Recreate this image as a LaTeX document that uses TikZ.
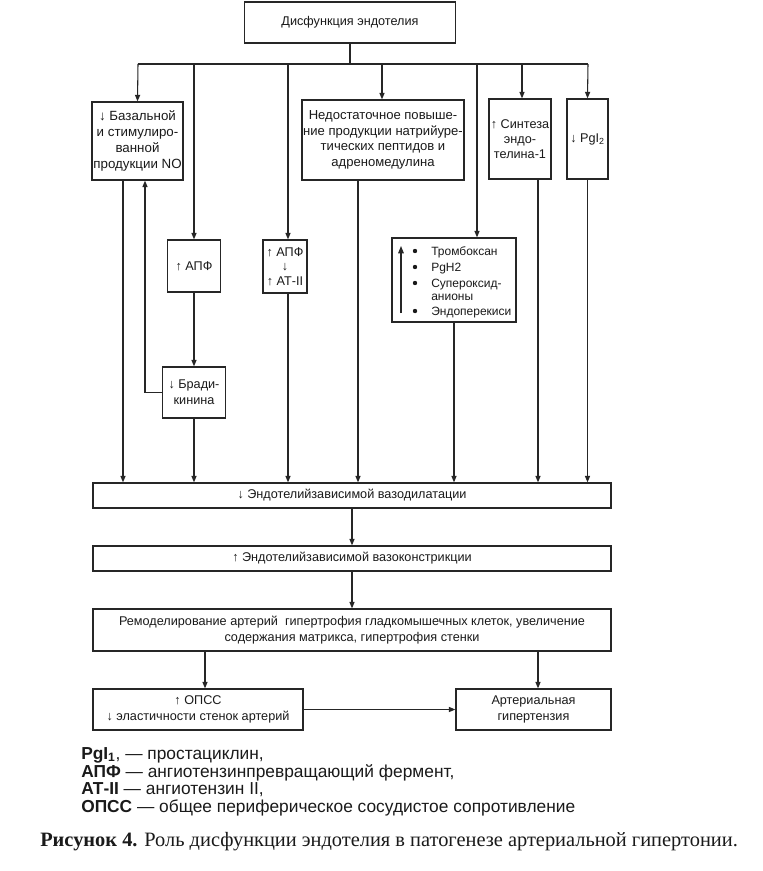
\documentclass[tikz,border=0pt]{standalone}
\usepackage{fontspec}
\setmainfont{Liberation Sans}
\newfontfamily\capfont{Liberation Serif}
\usetikzlibrary{arrows.meta}
\definecolor{linec}{HTML}{262626}
\definecolor{textc}{HTML}{1A1A1A}
\newcommand\dfont{\fontsize{9.5pt}{12pt}\selectfont}
\begin{document}
\begin{tikzpicture}[x=0.75pt,y=-0.75pt,
  box/.style={draw=linec, line width=1pt, inner sep=1pt, align=center, font=\dfont, text=textc},
  ln/.style={draw=linec, line width=0.8pt},
  arr/.style={draw=linec, line width=0.8pt, -{Triangle[length=4.8pt,width=3.8pt]}},
  lst/.style={anchor=base west, inner sep=0pt, font=\fontsize{9pt}{11pt}\selectfont, text=textc},
  leg/.style={anchor=base west, inner sep=0pt, text=textc, font=\fontsize{13pt}{13pt}\selectfont}]
\useasboundingbox (0,0) rectangle (763,871);
\fill[white] (0,0) rectangle (763,871);

% boxes
\node[box, minimum width=158.25pt, minimum height=30.75pt] (top) at (350,22.5) {Дисфункция эндотелия};
\node[box, minimum width=68.25pt, minimum height=58.5pt, font=\fontsize{10pt}{12pt}\selectfont] (baz) at (137.5,141) {↓ Базальной\\и стимулиро-\\ванной\\продукции NO};
\node[box, minimum width=121.5pt, minimum height=60pt, font=\fontsize{9.8pt}{11.6pt}\selectfont] (nedost) at (383,140) {Недостаточное повыше-\\ние продукции натрийуре-\\тических пептидов и\\адреномедулина};
\node[box, minimum width=46.5pt, minimum height=60pt, font=\fontsize{9.5pt}{11pt}\selectfont] (sint) at (520,139) {↑ Синтеза\\эндо-\\телина-1};
\node[box, minimum width=30.75pt, minimum height=60pt] (pgl) at (587.5,139) {↓ PgI\textsubscript{2}};
\node[box, minimum width=39.75pt, minimum height=39pt] (apf) at (194,266) {↑ АПФ};
\node[box, minimum width=33pt, minimum height=39.75pt, font=\fontsize{9.5pt}{11pt}\selectfont] (at2) at (285,266.5) {↑ АПФ\\↓\\↑ АТ-II};
\node[box, minimum width=93pt, minimum height=63pt] (tromb) at (454,280) {};
\node[box, minimum width=47.25pt, minimum height=38.25pt] (brad) at (194,392.5) {↓ Бради-\\кинина};
\node[box, minimum width=388.5pt, minimum height=18.75pt] (vd) at (352,495.5) {↓ Эндотелийзависимой вазодилатации};
\node[box, minimum width=388.5pt, minimum height=18.75pt] (vc) at (352,558.5) {↑ Эндотелийзависимой вазоконстрикции};
\node[box, minimum width=388.5pt, minimum height=31.5pt] (rem) at (352,630) {Ремоделирование артерий\ \ гипертрофия гладкомышечных клеток, увеличение\\содержания матрикса, гипертрофия стенки};
\node[box, minimum width=157.5pt, minimum height=30.75pt] (opss) at (198,709.5) {↑ ОПСС\\↓ эластичности стенок артерий};
\node[box, minimum width=116.25pt, minimum height=30.75pt] (ah) at (533.5,709.5) {Артериальная\\гипертензия};

% list inside tromb box
\draw[linec, line width=0.8pt, -{Triangle[length=5.5pt,width=4.2pt]}] (401,313) -- (401,246);
\foreach \yy in {251,267,283,311} \fill[textc] (415,\yy) circle (2.2);
\node[lst] (t1) at (431,255) {Тромбоксан};
\node[lst] (t2) at (431,271) {PgH2};
\node[lst] (t3) at (431,287) {Супероксид-};
\node[lst] (t4) at (431,300) {анионы};
\node[lst] (t5) at (431,315) {Эндоперекиси};

% distribution line
\coordinate (hl) at (138,64);
\coordinate (hr) at (588,64);
\coordinate (hm) at (350,64);
\coordinate (xa) at (288,0);
\coordinate (xn) at (382,0);
\coordinate (xt) at (477,0);
\coordinate (xs) at (522,0);
\coordinate (xb) at (123,0);
\coordinate (xf) at (145,0);
\coordinate (xn2) at (358,0);
\coordinate (xs2) at (538,0);
\coordinate (xo) at (205,0);
\draw[ln] (top.south) -- (hm);
\draw[ln] (hl) -- (hr);
\draw[arr] (hl) -- (baz.north);
\draw[arr] (apf.north |- hl) -- (apf.north);
\draw[arr] (xa |- hl) -- (xa |- at2.north);
\draw[arr] (xn |- hl) -- (xn |- nedost.north);
\draw[arr] (xt |- hl) -- (xt |- tromb.north);
\draw[arr] (xs |- hl) -- (xs |- sint.north);
\draw[arr] (hr) -- (pgl.north);

% to vasodilatation
\draw[arr] (xb |- baz.south) -- (xb |- vd.north);
\draw[arr] (brad.west) -| (xf |- baz.south);
\draw[arr] (apf) -- (brad);
\draw[arr] (brad.south) -- (brad.south |- vd.north);
\draw[arr] (xa |- at2.south) -- (xa |- vd.north);
\draw[arr] (xn2 |- nedost.south) -- (xn2 |- vd.north);
\draw[arr] (tromb.south) -- (tromb.south |- vd.north);
\draw[arr] (xs2 |- sint.south) -- (xs2 |- vd.north);
\draw[arr] (pgl.south) -- (pgl.south |- vd.north);

% lower chain
\draw[arr] (vd) -- (vc);
\draw[arr] (vc) -- (rem);
\draw[arr] (xo |- rem.south) -- (xo |- opss.north);
\draw[arr] (xs2 |- rem.south) -- (xs2 |- ah.north);
\draw[arr] (opss) -- (ah);

% legend
\node[leg] (l1) at (81,759) {\textbf{PgI}\textsubscript{\textbf{1}}, — простациклин,};
\node[leg] (l2) at (81,777) {\textbf{АПФ} — ангиотензинпревращающий фермент,};
\node[leg] (l3) at (81,794) {\textbf{АТ-II} — ангиотензин II,};
\node[leg] (l4) at (81,812) {\textbf{ОПСС} — общее периферическое сосудистое сопротивление};
% caption
\node[anchor=west, inner sep=0pt, text=textc, font=\capfont\fontsize{15.3pt}{17pt}\selectfont] (cap) at (40,842)
  {\textbf{Рисунок 4.} Роль дисфункции эндотелия в патогенезе артериальной гипертонии.};
\end{tikzpicture}
\end{document}
